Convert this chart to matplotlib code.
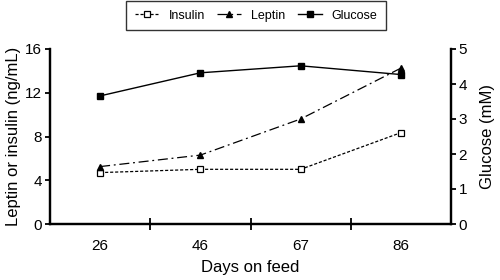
import matplotlib.pyplot as plt
import numpy as np

plt.rcParams['font.family'] = ['Liberation Sans', 'DejaVu Sans']

days = ['26', '46', '67', '86']
insulin = [4.7, 5.0, 5.0, 8.35]
leptin = [5.25, 6.3, 9.6, 14.25]
glucose = [3.66, 4.32, 4.52, 4.27]

x = np.arange(len(days)) + 0.5

fig = plt.figure(figsize=(5, 2.8), dpi=100)
ax = fig.add_axes([0.1, 0.2, 0.802, 0.625])
ax2 = ax.twinx()

l1, = ax.plot(x, insulin, color='black', linestyle=(0, (2.5, 1.5)), linewidth=0.9,
              marker='s', markersize=4, markerfacecolor='white', markeredgewidth=0.9,
              label='Insulin')
l2, = ax.plot(x, leptin, color='black', linestyle=(0, (8, 3, 1.5, 3)), linewidth=0.9,
              marker='^', markersize=4.5, label='Leptin')
l3, = ax2.plot(x, glucose, color='black', linestyle='-', linewidth=1.0,
               marker='s', markersize=4.5, label='Glucose')

ax.set_xlim(0, 4)
ax.set_ylim(0, 16)
ax2.set_ylim(0, 5)
ax.set_yticks([0, 4, 8, 12, 16])
ax2.set_yticks([0, 1, 2, 3, 4, 5])
ax.set_xticks(x)
ax.set_xticklabels(days)
ax.set_xticks([1, 2, 3], minor=True)
ax.tick_params(axis='x', which='major', length=0, pad=11, labelsize=11)
ax.tick_params(axis='x', which='minor', length=8, width=1.3, direction='inout')
ax.tick_params(axis='y', length=3.5, width=1.3, labelsize=11, pad=2)
ax2.tick_params(axis='y', length=3.5, width=1.3, labelsize=11, pad=2)

for a in (ax, ax2):
    a.spines['top'].set_visible(False)
    for s in ('left', 'right', 'bottom'):
        a.spines[s].set_linewidth(1.6)

ax.set_xlabel('Days on feed', fontsize=12)
ax.set_ylabel('Leptin or insulin (ng/mL)', fontsize=12)
ax2.set_ylabel('Glucose (mM)', fontsize=12)
ax.xaxis.set_label_coords(0.5, -0.205)
ax.yaxis.set_label_coords(-0.073, 0.5)
ax2.yaxis.set_label_coords(1.072, 0.5)

leg = fig.legend(handles=[l1, l2, l3], loc='upper center',
                 bbox_to_anchor=(0.512, 0.997), ncol=3, fontsize=9,
                 frameon=True, fancybox=False, edgecolor='black',
                 handlelength=1.9, columnspacing=1.0, borderpad=0.7,
                 handletextpad=0.8, borderaxespad=0)
leg.get_frame().set_linewidth(1.0)

fig.savefig('out.png', dpi=100)
